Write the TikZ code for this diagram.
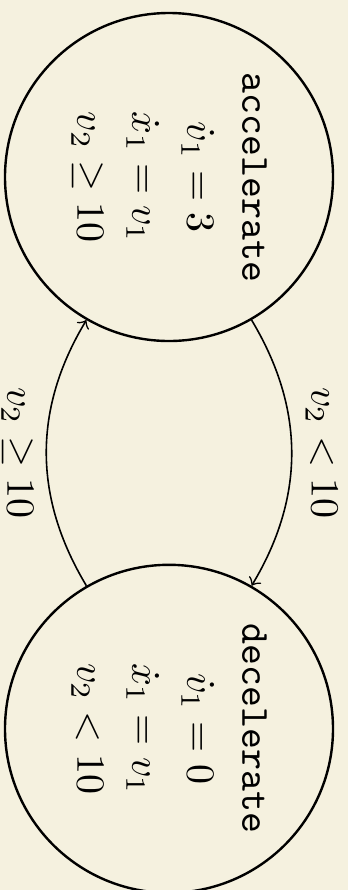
\documentclass[tikz,border=0pt]{standalone}
\definecolor{bg}{RGB}{245,241,223}
\begin{document}
\begin{tikzpicture}[x=1pt,y=1pt,
  state/.style={circle, draw, line width=0.6pt, minimum size=82pt, inner sep=0pt,
    rotate=-90, align=center, font=\fontsize{10}{13.75}\selectfont},
  lab/.style={rotate=-90, font=\fontsize{10}{12}\selectfont},
  conn/.style={->, line width=0.4pt}]
\fill[bg] (0,0) rectangle (87,-222.5);
\useasboundingbox (0,0) rectangle (87,-222.5);
\node[state] (acc) at (42.25,-44.25) {\texttt{accelerate}\\ $\dot v_1 = 3$\\ $\dot x_1 = v_1$\\ $v_2 \geq 10$};
\node[state] (dec) at (42.25,-182.2) {\texttt{decelerate}\\ $\dot v_1 = 0$\\ $\dot x_1 = v_1$\\ $v_2 < 10$};
\draw[conn] (acc.30) to[bend left=31] node[midway, lab, yshift=7.5pt] (l1) {$v_2 < 10$} (dec.150);
\draw[conn] (dec.210) to[bend left=31] node[midway, lab, yshift=-7.3pt] (l2) {$v_2 \geq 10$} (acc.330);
\end{tikzpicture}
\end{document}
